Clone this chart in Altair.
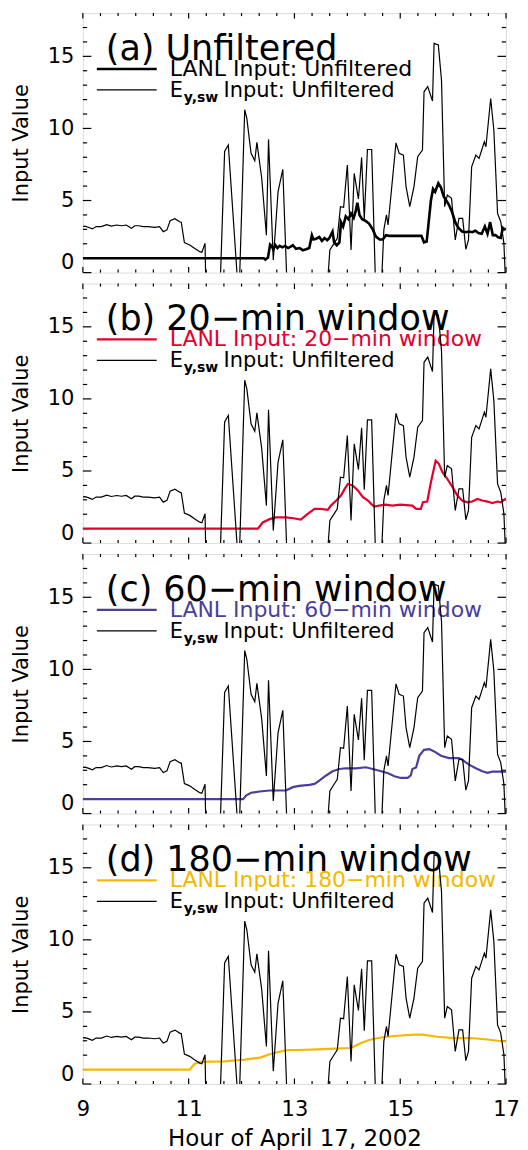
import altair as alt
import pandas as pd

# ---------------- data ----------------
ey_hour = [9.00, 9.04, 9.10, 9.18, 9.25, 9.35, 9.45, 9.54, 9.64, 9.73, 9.82, 9.92, 9.98,
           10.06, 10.14, 10.23, 10.36, 10.45, 10.52, 10.59, 10.65, 10.74, 10.83, 10.86,
           10.92, 11.02, 11.11, 11.21, 11.25, 11.31, 11.35, 11.55, 11.68, 11.73, 11.75,
           11.95, 12.06, 12.10, 12.18, 12.25, 12.29, 12.38, 12.47, 12.51, 12.60, 12.69,
           12.78, 12.88, 13.58, 13.67, 13.75, 13.81, 13.87, 13.93, 14.00, 14.07, 14.13,
           14.21, 14.27, 14.32, 14.38, 14.46, 14.55, 14.62, 14.69, 14.74, 14.77, 14.92,
           14.98, 15.06, 15.11, 15.18, 15.26, 15.33, 15.42, 15.45, 15.52, 15.61, 15.64,
           15.72, 15.78, 15.84, 15.89, 15.97, 16.04, 16.11, 16.18, 16.24, 16.29, 16.35,
           16.43, 16.49, 16.59, 16.62, 16.71, 16.77, 16.84, 16.90, 16.96, 17.00]
ey_val = [3.20, 3.22, 3.15, 3.03, 3.19, 3.19, 3.33, 3.23, 3.30, 3.25, 3.30, 3.07, 3.25,
          3.25, 3.19, 3.19, 3.14, 3.19, 2.84, 2.96, 3.60, 3.74, 3.53, 3.50,
          2.08, 1.92, 1.69, 1.45, 1.41, 2.03, -6.0, -6.0, 8.40, 8.73, 8.85,
          -2.0, 11.30, 10.70, 8.27, 7.76, 9.03, 6.60, 2.60, 9.24, 0.88, 5.60,
          7.16, -3.0, -3.0, 1.57, 2.03, 2.38, 4.57, 4.53, 7.46, 1.57, 6.88,
          5.10, 7.99, 3.70, 8.54, 8.54, -3.0, -3.0, 2.96, 4.00, 3.30, 9.00,
          8.27, 8.15, 5.96, 4.57, 5.96, 8.04, 8.50, 12.54, 12.90, 11.90, 15.90,
          15.80, 13.35, 4.57, 5.38, 5.15, 2.26, 3.76, 3.76, 1.62, 2.26, 7.34,
          8.15, 7.92, 9.08, 8.73, 12.08, 9.88, 4.10, 3.53, 2.03, -1.5]

lanl_unf_hour = [9.00, 12.42, 12.45, 12.50, 12.54, 12.57, 12.60, 12.64, 12.68, 12.72, 12.77,
                 12.82, 12.88, 12.93, 12.97, 13.03, 13.10, 13.16, 13.22, 13.28, 13.33, 13.36,
                 13.41, 13.47, 13.52, 13.57, 13.62, 13.66, 13.72, 13.75, 13.80, 13.85, 13.88,
                 13.92, 13.97, 14.02, 14.07, 14.12, 14.16, 14.19, 14.23, 14.28, 14.34, 14.41,
                 14.48, 14.54, 14.61, 14.67, 14.73, 14.79, 15.40, 15.45, 15.50, 15.58, 15.62,
                 15.66, 15.72, 15.77, 15.82, 15.87, 15.92, 15.98, 16.04, 16.10, 16.17, 16.24,
                 16.30, 16.36, 16.42, 16.48, 16.54, 16.60, 16.65, 16.70, 16.75, 16.80, 16.85,
                 16.90, 16.94, 16.97, 17.00]
lanl_unf_val = [1.00, 1.00, 0.90, 1.05, 1.95, 1.85, 1.60, 1.90, 1.70, 1.85, 1.75,
                1.85, 1.70, 1.80, 1.90, 1.65, 1.70, 1.55, 1.62, 1.70, 2.60, 2.30,
                2.35, 2.47, 2.20, 2.40, 2.25, 2.40, 2.85, 2.10, 1.90, 2.10, 3.50,
                3.20, 3.90, 3.70, 4.10, 3.80, 4.30, 4.84, 4.00, 3.70, 3.60, 3.40,
                3.00, 2.50, 2.30, 2.30, 2.60, 2.55, 2.55, 2.10, 2.15, 5.00, 5.80,
                5.60, 6.20, 5.90, 5.30, 5.00, 4.70, 4.20, 3.50, 3.10, 2.85, 2.80,
                2.85, 2.80, 2.90, 2.75, 2.70, 3.20, 2.70, 3.50, 2.60, 2.60, 2.45,
                2.40, 3.10, 3.00, 3.05]

lanl_20_hour = [9.00, 12.31, 12.40, 12.53, 12.65, 12.84, 12.98, 13.12, 13.25, 13.38, 13.50,
                13.63, 13.69, 13.79, 13.88, 13.95, 14.01, 14.10, 14.20, 14.29, 14.39, 14.45,
                14.51, 14.60, 14.73, 14.85, 15.00, 15.23, 15.30, 15.39, 15.43, 15.51, 15.58,
                15.67, 15.73, 15.80, 15.89, 15.99, 16.08, 16.17, 16.27, 16.36, 16.46, 16.55,
                16.65, 16.74, 16.84, 16.90, 17.00]
lanl_20_val = [1.00, 1.00, 1.43, 1.66, 1.78, 1.78, 1.72, 1.63, 2.03, 2.37, 2.37,
               2.30, 2.60, 2.95, 3.30, 3.76, 4.10, 4.00, 3.65, 3.20, 2.95, 2.72,
               2.54, 2.60, 2.66, 2.60, 2.66, 2.60, 2.37, 2.37, 2.83, 2.88, 4.22,
               5.72, 5.50, 4.90, 4.45, 3.87, 3.30, 2.95, 2.83, 2.88, 3.06, 2.95,
               2.88, 2.78, 2.88, 2.83, 3.10]

lanl_60_hour = [9.00, 12.03, 12.09, 12.18, 12.34, 12.53, 12.72, 12.84, 12.97, 13.09, 13.28,
                13.38, 13.47, 13.60, 13.72, 13.85, 13.97, 14.16, 14.35, 14.48, 14.64, 14.77,
                14.89, 15.01, 15.14, 15.20, 15.23, 15.30, 15.36, 15.45, 15.55, 15.64, 15.77,
                15.92, 16.11, 16.18, 16.30, 16.43, 16.55, 16.65, 16.74, 16.87, 17.00]
lanl_60_val = [1.00, 1.00, 1.26, 1.44, 1.53, 1.60, 1.60, 1.60, 1.83, 1.92, 1.99,
               2.06, 2.29, 2.64, 2.93, 3.09, 3.14, 3.14, 3.21, 3.09, 2.93, 2.80,
               2.59, 2.47, 2.47, 2.64, 3.09, 3.20, 4.00, 4.42, 4.47, 4.31, 4.01,
               3.85, 3.85, 3.71, 3.39, 3.14, 2.93, 2.82, 2.91, 2.91, 2.91]

lanl_180_hour = [9.00, 11.02, 11.11, 11.21, 11.40, 11.68, 12.06, 12.37, 12.50, 12.69, 12.88,
                 13.06, 13.44, 13.75, 14.07, 14.26, 14.41, 14.51, 14.70, 14.95, 15.26, 15.42,
                 15.70, 16.02, 16.33, 16.65, 16.84, 17.00]
lanl_180_val = [1.00, 1.00, 1.39, 1.52, 1.55, 1.57, 1.69, 1.85, 2.03, 2.22, 2.36,
                2.36, 2.40, 2.45, 2.50, 2.84, 3.05, 3.14, 3.26, 3.35, 3.42, 3.42,
                3.28, 3.19, 3.19, 3.09, 3.00, 2.96]

panel_titles = ["(a) Unfiltered", "(b) 20\u2212min window", "(c) 60\u2212min window",
                "(d) 180\u2212min window"]
legend_labels = ["LANL Input: Unfiltered", "LANL Input: 20\u2212min window",
                 "LANL Input: 60\u2212min window", "LANL Input: 180\u2212min window"]
panel_colors = ["#000000", "#E5002B", "#4A3F9D", "#F5B800"]
lanl_width = [2.6, 2.2, 2.2, 2.2]

x_major = [9, 11, 13, 15, 17]
x_minor = [9 + i / 3 for i in range(25) if i % 6 != 0]
y_major = [0, 5, 10, 15]
y_minor = [v for v in range(1, 18) if v % 5 != 0]

# ---------------- layout constants ----------------
W, H = 424, 260
FONT = "DejaVu Sans"
xs = alt.Scale(domain=[9, 17], nice=False, zero=False)
ys = alt.Scale(domain=[0, 18], nice=False, zero=False)

ey_df = pd.DataFrame({"h": ey_hour, "v": ey_val})
lanl_dfs = [
    pd.DataFrame({"h": lanl_unf_hour, "v": lanl_unf_val}),
    pd.DataFrame({"h": lanl_20_hour, "v": lanl_20_val}),
    pd.DataFrame({"h": lanl_60_hour, "v": lanl_60_val}),
    pd.DataFrame({"h": lanl_180_hour, "v": lanl_180_val}),
]
one = pd.DataFrame({"k": [0]})


def x_axis(bottom):
    if bottom:
        return alt.Axis(values=x_major, ticks=False, domain=False, grid=False,
                        labelFont=FONT, labelFontSize=21, labelPadding=15,
                        labelFlush=False, labelColor="black",
                        title="Hour of April 17, 2002", titleFont=FONT,
                        titleFontSize=23, titleFontWeight="normal",
                        titlePadding=8, titleColor="black")
    return alt.Axis(values=x_major, ticks=False, domain=False, grid=False,
                    labels=False, title=None)


def y_axis():
    return alt.Axis(values=y_major, ticks=False, domain=False, grid=False,
                    labelFont=FONT, labelFontSize=21, labelPadding=9,
                    labelFlush=True, labelColor="black",
                    minExtent=36, maxExtent=36,
                    title="Input Value", titleFont=FONT, titleFontSize=21,
                    titleFontWeight="normal", titlePadding=15, titleColor="black")


def panel(i, bottom):
    X = alt.X("h:Q", scale=xs, axis=x_axis(bottom))
    Y = alt.Y("v:Q", scale=ys, axis=y_axis())
    layers = []
    # inward tick marks on all four sides
    for vals, L in ((y_major, 8.5), (y_minor, 4.3)):
        d = pd.DataFrame({"v": vals})
        layers.append(alt.Chart(d).mark_rule(color="black", strokeWidth=1.2).encode(
            y=Y, x=alt.value(0), x2=alt.value(L)))
        layers.append(alt.Chart(d).mark_rule(color="black", strokeWidth=1.2).encode(
            y=Y, x=alt.value(W - L), x2=alt.value(W)))
    for vals, L in ((x_major, 5.5), (x_minor, 3)):
        d = pd.DataFrame({"h": vals})
        layers.append(alt.Chart(d).mark_rule(color="black", strokeWidth=1.2).encode(
            x=X, y=alt.value(H), y2=alt.value(H - L)))
        layers.append(alt.Chart(d).mark_rule(color="black", strokeWidth=1.2).encode(
            x=X, y=alt.value(0), y2=alt.value(L)))
    # panel title
    layers.append(alt.Chart(one).mark_text(
        text=panel_titles[i], font=FONT, fontSize=35, align="left",
        baseline="alphabetic", color="black").encode(
        x=alt.value(23), y=alt.value(47)))
    # legend
    layers.append(alt.Chart(one).mark_rule(color=panel_colors[i], strokeWidth=lanl_width[i]).encode(
        x=alt.value(14), x2=alt.value(74), y=alt.value(56)))
    layers.append(alt.Chart(one).mark_text(
        text=legend_labels[i], font=FONT, fontSize=22, align="left",
        baseline="alphabetic", color=panel_colors[i]).encode(
        x=alt.value(87), y=alt.value(63)))
    layers.append(alt.Chart(one).mark_rule(color="black", strokeWidth=1.2).encode(
        x=alt.value(14), x2=alt.value(74), y=alt.value(77)))
    layers.append(alt.Chart(one).mark_text(
        text="E", font=FONT, fontSize=21, align="left", baseline="alphabetic",
        color="black").encode(x=alt.value(87), y=alt.value(84)))
    layers.append(alt.Chart(one).mark_text(
        text="y,sw", font=FONT, fontSize=14, fontWeight="bold", align="left",
        baseline="alphabetic", color="black").encode(x=alt.value(101), y=alt.value(89)))
    layers.append(alt.Chart(one).mark_text(
        text="Input: Unfiltered", font=FONT, fontSize=21, align="left",
        baseline="alphabetic", color="black").encode(x=alt.value(141), y=alt.value(84)))
    # data lines
    layers.append(alt.Chart(lanl_dfs[i]).mark_line(
        color=panel_colors[i], strokeWidth=lanl_width[i], clip=True).encode(x=X, y=Y))
    layers.append(alt.Chart(ey_df).mark_line(
        color="black", strokeWidth=1.2, clip=True).encode(x=X, y=Y))
    return alt.layer(*layers).properties(width=W, height=H)


chart = alt.vconcat(*[panel(i, i == 3) for i in range(4)], spacing=7).properties(
    padding={"left": 2, "top": 2, "right": 0, "bottom": 0}
).configure_view(stroke="black", strokeWidth=1.6).configure(background="white")

chart.save("out.html", embed_options={"renderer": "svg", "actions": False})
